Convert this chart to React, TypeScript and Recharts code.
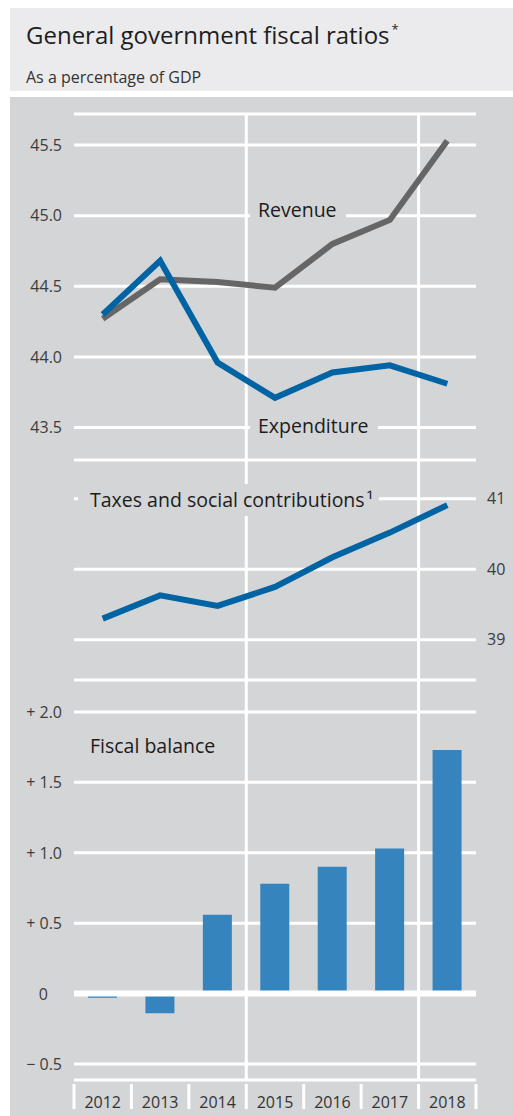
import React from "react";
import {
  ComposedChart,
  LineChart,
  Line,
  Bar,
  XAxis,
  YAxis,
  CartesianGrid,
  ReferenceLine,
} from "recharts";

const years = [2012, 2013, 2014, 2015, 2016, 2017, 2018];
const revenue = [44.27, 44.55, 44.53, 44.49, 44.8, 44.97, 45.53];
const expenditure = [44.3, 44.68, 43.96, 43.71, 43.89, 43.94, 43.81];
const taxes = [39.3, 39.63, 39.48, 39.75, 40.17, 40.52, 40.91];
const balance = [-0.03, -0.14, 0.56, 0.78, 0.9, 1.03, 1.73];

const ratioTicks = [43.5, 44.0, 44.5, 45.0, 45.5];
const taxTicks = [39, 40, 41];
const balanceTicks = [-0.5, 0, 0.5, 1.0, 1.5, 2.0];
const dividers = [2014.5, 2017.5];

const rows = years.map((year, i) => ({
  year,
  revenue: revenue[i],
  expenditure: expenditure[i],
  taxes: taxes[i],
  balance: balance[i],
}));

const W = 513;
const PLOT_LEFT = 74;
const PLOT_RIGHT = 37;
const BAND = (W - PLOT_LEFT - PLOT_RIGHT) / years.length;
const X_DOMAIN: [number, number] = [2011.5, 2018.5];

const PANEL = "#d4d5d7";
const FONT = "'Open Sans', 'Noto Sans', sans-serif";
const TICK = { fontSize: 16, fill: "#3c3c3c", fontFamily: FONT };
const LINE_W = 6;

const fmtBalance = (v: number) =>
  v > 0 ? `+ ${v.toFixed(1)}` : v < 0 ? `\u2212 ${Math.abs(v).toFixed(1)}` : "0";

const BalanceTick = (props: any) => {
  const { x, y, payload } = props;
  const v = payload.value as number;
  return (
    <text x={v === 0 ? x - 14 : x} y={y} dy={6} textAnchor="end" {...TICK}>
      {fmtBalance(v)}
    </text>
  );
};

const YearTick = (props: any) => {
  const { x, y, payload, index } = props;
  const half = BAND / 2;
  return (
    <g>
      <line x1={x - half} x2={x - half} y1={y + 2} y2={y + 27} stroke="#fff" strokeWidth={3} />
      {index === years.length - 1 && (
        <line x1={x + half} x2={x + half} y1={y + 2} y2={y + 27} stroke="#fff" strokeWidth={3} />
      )}
      <text x={x} y={y + 26} textAnchor="middle" fontSize={16} fill="#333" fontFamily={FONT}>
        {payload.value}
      </text>
    </g>
  );
};

const label: React.CSSProperties = {
  position: "absolute",
  fontFamily: FONT,
  fontSize: 19.5,
  lineHeight: "22px",
  color: "#1c1c1c",
  background: PANEL,
  whiteSpace: "nowrap",
};

export default function App() {
  return (
    <div
      style={{
        position: "absolute",
        left: 0,
        top: 0,
        width: W,
        height: 1116,
        background: "#fff",
        overflow: "hidden",
        fontFamily: FONT,
      }}
    >
      <div style={{ position: "absolute", left: 10, top: 8, width: 503, height: 83, background: "#ebebed" }} />
      <div
        style={{
          position: "absolute",
          left: 26,
          top: 23,
          fontSize: 24,
          lineHeight: 1,
          color: "#1e1e1e",
          whiteSpace: "nowrap",
        }}
      >
        General government fiscal ratios
        <span style={{ fontSize: 13, position: "relative", top: -10, marginLeft: 2 }}>*</span>
      </div>
      <div
        style={{ position: "absolute", left: 26, top: 69, fontSize: 16, lineHeight: 1, color: "#333" }}
      >
        As a percentage of GDP
      </div>
      <div style={{ position: "absolute", left: 10, top: 97, width: 503, height: 1019, background: PANEL }} />

      <div style={{ position: "absolute", left: 0, top: 100 }}>
        <LineChart width={W} height={360} data={rows} margin={{ top: 14, right: PLOT_RIGHT, bottom: 0, left: 0 }}>
          <CartesianGrid vertical={false} stroke="#fff" strokeWidth={3} />
          <XAxis type="number" dataKey="year" domain={X_DOMAIN} allowDataOverflow hide />
          <YAxis
            width={PLOT_LEFT}
            domain={[43.27, 45.72]}
            allowDataOverflow
            ticks={ratioTicks}
            tickFormatter={(v: number) => v.toFixed(1)}
            axisLine={false}
            tickLine={false}
            tickSize={0}
            tickMargin={12}
            tick={TICK}
          />
          {dividers.map((d) => (
            <ReferenceLine key={d} x={d} stroke="#fff" strokeWidth={3} />
          ))}
          <Line dataKey="revenue" stroke="#666666" strokeWidth={LINE_W} dot={false} isAnimationActive={false} />
          <Line dataKey="expenditure" stroke="#0063a3" strokeWidth={LINE_W} dot={false} isAnimationActive={false} />
        </LineChart>
      </div>

      <div style={{ position: "absolute", left: 0, top: 460 }}>
        <LineChart width={W} height={220} data={rows} margin={{ top: 0, right: 0, bottom: 0, left: PLOT_LEFT }}>
          <CartesianGrid vertical={false} stroke="#fff" strokeWidth={3} />
          <XAxis type="number" dataKey="year" domain={X_DOMAIN} allowDataOverflow hide />
          <YAxis
            orientation="right"
            width={PLOT_RIGHT}
            domain={[38.43, 41.55]}
            allowDataOverflow
            ticks={taxTicks}
            axisLine={false}
            tickLine={false}
            tickSize={0}
            tickMargin={11}
            tick={TICK}
          />
          {dividers.map((d) => (
            <ReferenceLine key={d} x={d} stroke="#fff" strokeWidth={3} />
          ))}
          <Line dataKey="taxes" stroke="#0063a3" strokeWidth={LINE_W} dot={false} isAnimationActive={false} />
        </LineChart>
      </div>

      <div style={{ position: "absolute", left: 0, top: 680 }}>
        <ComposedChart width={W} height={436} data={rows} margin={{ top: 0, right: PLOT_RIGHT, bottom: 0, left: 0 }}>
          <CartesianGrid vertical={false} stroke="#fff" strokeWidth={3} />
          <XAxis
            type="number"
            dataKey="year"
            domain={X_DOMAIN}
            allowDataOverflow
            ticks={years}
            interval={0}
            height={36}
            axisLine={false}
            tickLine={false}
            tickSize={0}
            tick={<YearTick />}
          />
          <YAxis
            width={PLOT_LEFT}
            domain={[-0.614, 2.227]}
            allowDataOverflow
            ticks={balanceTicks}
            axisLine={false}
            tickLine={false}
            tickSize={0}
            tickMargin={12}
            tick={<BalanceTick />}
          />
          {dividers.map((d) => (
            <ReferenceLine key={d} x={d} stroke="#fff" strokeWidth={3} />
          ))}
          <Bar dataKey="balance" fill="#3584bd" barSize={29} isAnimationActive={false} />
          <ReferenceLine y={0} stroke="#fff" strokeWidth={6} />
        </ComposedChart>
      </div>

      <div style={{ ...label, left: 250, top: 198.5, padding: "0 9px 0 8px" }}>Revenue</div>
      <div style={{ ...label, left: 250, top: 414.5, padding: "0 9px 0 8px" }}>Expenditure</div>
      <div style={{ ...label, left: 78, top: 483.5, lineHeight: "32px", padding: "0 6px 0 12px" }}>
        Taxes and social contributions<span style={{ marginLeft: 2 }}>¹</span>
      </div>
      <div style={{ ...label, left: 90, top: 734.5, background: "transparent" }}>Fiscal balance</div>
    </div>
  );
}
